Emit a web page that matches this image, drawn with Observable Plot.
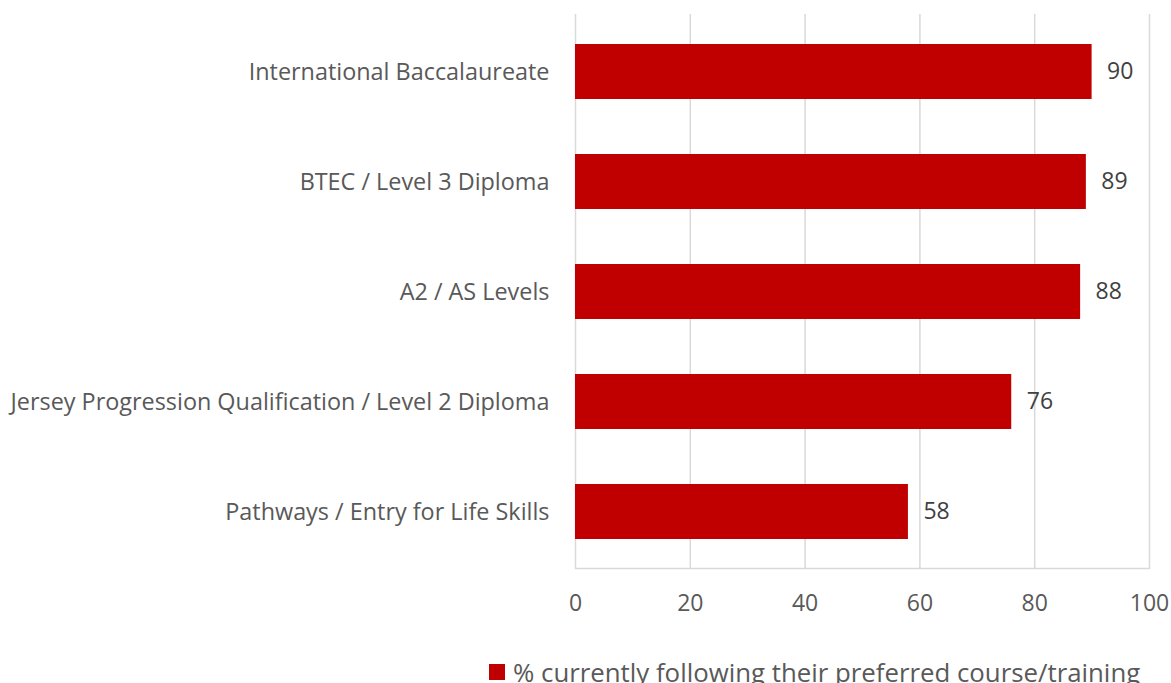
<!DOCTYPE html>
<html>
<head>
<meta charset="utf-8">
<script src="https://cdn.jsdelivr.net/npm/d3@7"></script>
<script src="https://cdn.jsdelivr.net/npm/@observablehq/plot@0.6"></script>
<style>
  html, body { margin: 0; padding: 0; background: #fff; overflow: hidden; width: 1171px; height: 683px; }
  #chart svg { display: block; }
  #legend { position: relative; height: 54px; display: flex; align-items: center; padding-left: 489px;
    font-family: "Open Sans", sans-serif; font-size: 25.8px; color: #595959; white-space: nowrap; }
  #legend .sw { width: 16px; height: 16px; background: #C00000; margin-right: 8px; display: inline-block; flex: none; }
</style>
</head>
<body>
<div id="chart"></div>
<div id="legend"><span class="sw"></span><span id="legendText"></span></div>
<script>
const categories = [
  "International Baccalaureate",
  "BTEC / Level 3 Diploma",
  "A2 / AS Levels",
  "Jersey Progression Qualification / Level 2 Diploma",
  "Pathways / Entry for Life Skills"
];
const values = [90, 89, 88, 76, 58];
const xTicks = [0, 20, 40, 60, 80, 100];
const seriesName = "% currently following their preferred course/training";

const data = categories.map((c, i) => ({category: c, value: values[i]}));

const chart = Plot.plot({
  width: 1171,
  height: 645,
  marginLeft: 575,
  marginRight: 22,
  marginTop: 14,
  marginBottom: 77,
  style: {fontFamily: "'Open Sans', sans-serif", color: "#595959", background: "#fff"},
  x: {domain: [0, 100], ticks: xTicks, label: null},
  y: {domain: categories, paddingInner: 0.5, paddingOuter: 0.25, label: null},
  marks: [
    Plot.gridX(xTicks, {stroke: "#d9d9d9", strokeWidth: 1.5, strokeOpacity: 1}),
    Plot.frame({anchor: "bottom", stroke: "#d9d9d9", strokeWidth: 1.5}),
    Plot.barX(data, {x: "value", y: "category", fill: "#C00000"}),
    Plot.text(data, {x: "value", y: "category", text: d => String(d.value), textAnchor: "start", dx: 15,
      fontSize: 23, fill: "#404040"}),
    Plot.axisX({ticks: xTicks, tickSize: 0, tickPadding: 26, fontSize: 23, fill: "#595959", label: null}),
    Plot.axisY({tickSize: 0, tickPadding: 26, fontSize: 23.4, fill: "#595959", label: null})
  ]
});
document.getElementById("chart").appendChild(chart);
document.getElementById("legendText").textContent = seriesName;
</script>
</body>
</html>
